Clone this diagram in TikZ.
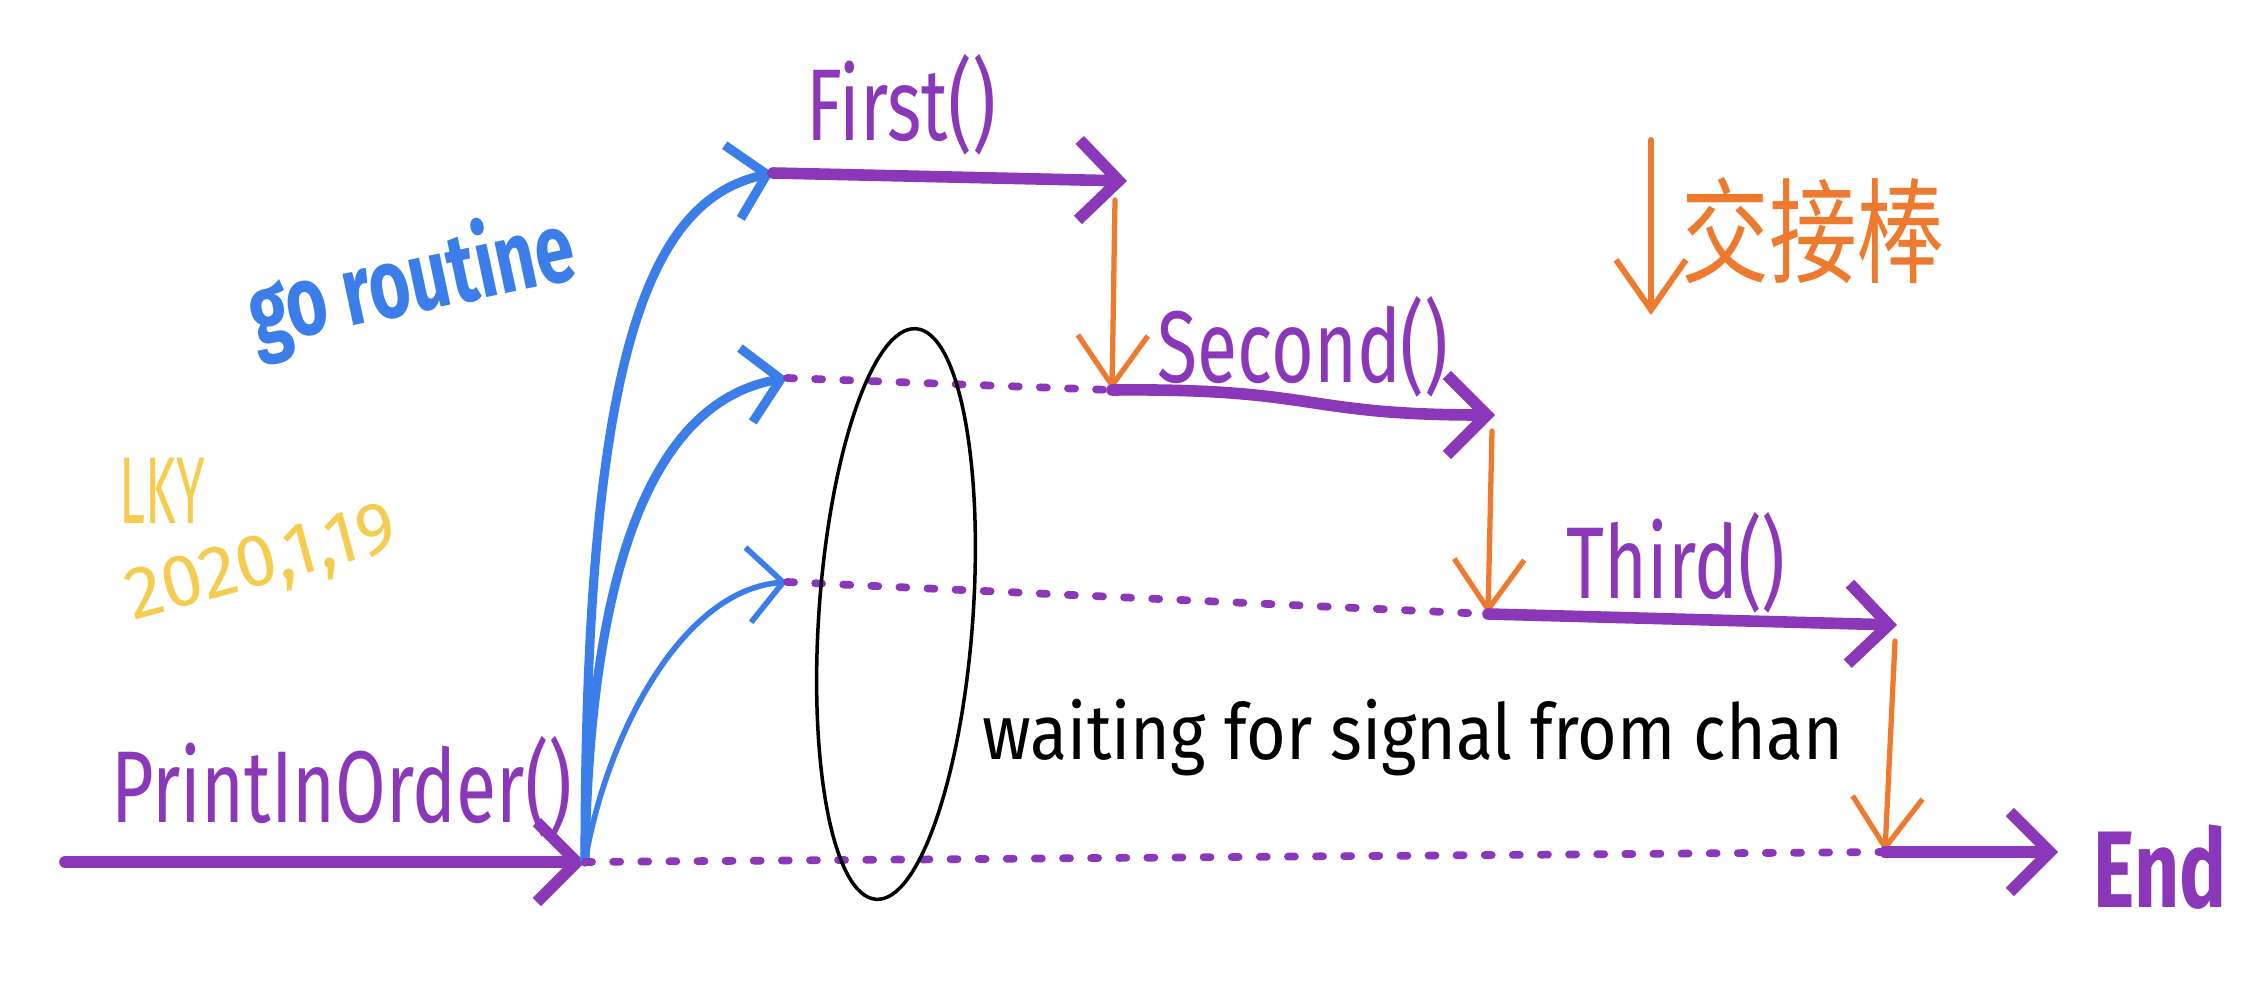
\documentclass[tikz,border=0pt]{standalone}
\usepackage{fontspec}
\setmainfont{Fira Sans}
\newfontfamily\cjkfont{Noto Sans CJK SC}
\usetikzlibrary{arrows.meta}
\definecolor{purp}{RGB}{138,56,185}
\definecolor{goblue}{RGB}{59,126,234}
\definecolor{baton}{RGB}{238,122,48}
\definecolor{sign}{RGB}{244,205,80}
\begin{document}
\begin{tikzpicture}
       \tikzstyle{flow}=[purp, line width=3.3pt, line cap=round, -{Straight Barb[length=4mm,width=8mm]}]
       \tikzstyle{wait}=[purp, line width=2.2pt, line cap=round, dash pattern=on 2pt off 6pt]
       \tikzstyle{spawn}=[goblue, line width=2.6pt, line cap=round, -{Straight Barb[length=3.5mm,width=7.5mm]}]
       \tikzstyle{pass}=[baton, line width=1.5pt, line cap=round, -{Straight Barb[length=5mm,width=7mm]}]
       \tikzstyle{fname}=[purp, inner sep=0, xscale=.72, font=\fontsize{29}{29}\selectfont]
       \fill[white] (0,0) rectangle (22.65,9.86);
       \useasboundingbox (0,0) rectangle (22.65,9.86);
       \coordinate (start) at (0.65,1.24);
       \coordinate (fork) at (5.85,1.24);
       \coordinate (f1) at (7.73,8.13);
       \coordinate (f2) at (11.27,8.05);
       \coordinate (w2) at (7.87,6.08);
       \coordinate (s1) at (11.12,5.96);
       \coordinate (s2) at (14.95,5.71);
       \coordinate (w3) at (7.87,4.04);
       \coordinate (t1) at (14.88,3.72);
       \coordinate (t2) at (18.97,3.61);
       \coordinate (e1) at (18.85,1.34);
       \coordinate (e2) at (20.58,1.34);
       \coordinate (h1) at (11.15,7.86);
       \coordinate (h2) at (14.92,5.55);
       \coordinate (h3) at (18.95,3.45);
       \coordinate (legtop) at (16.51,8.46);
       \coordinate (legbot) at (16.51,6.71);
       \draw[flow] (start) -- (fork);
       \draw[spawn] (fork) .. controls (5.85,6.36) and (6.50,7.86) .. (f1);
       \draw[spawn] (fork) .. controls (5.90,4.36) and (6.60,5.86) .. (w2);
       \draw[spawn, line width=1.6pt] (fork) .. controls (6.05,2.46) and (6.80,3.96) .. (w3);
       \draw[flow] (f1) -- (f2);
       \draw[pass] (h1) -- (s1);
       \draw[flow] (s1) .. controls (13.2,5.98) and (13.0,5.71) .. (s2);
       \draw[pass] (h2) -- (t1);
       \draw[flow] (t1) -- (t2);
       \draw[pass] (h3) -- (e1);
       \draw[flow] (e1) -- (e2);
       \draw[wait] (w2) -- (s1);
       \draw[wait] (w3) -- (t1);
       \draw[wait] (fork) -- (e1);
       \draw[black, line width=1pt] (8.96,3.72) ellipse[x radius=0.77, y radius=2.86, rotate=-4];
       \draw[pass, line width=1.7pt] (legtop) -- (legbot);
       \node[fname] (pio) at (3.42,1.99) {PrintInOrder()};
       \node[fname] (first) at (9.01,8.81) {First()};
       \node[fname] (second) at (13.03,6.39) {Second()};
       \node[fname] (third) at (16.76,4.23) {Third()};
       \node[fname, font=\fontsize{31}{31}\selectfont\bfseries] (endlbl) at (21.60,1.19) {End};
       \node[goblue, inner sep=0, rotate=12, xscale=.72, font=\fontsize{28}{28}\selectfont\bfseries] (gor) at (4.12,7.02) {go routine};
       \node[sign, inner sep=0, xscale=.55, font=\fontsize{27}{27}\selectfont] (who) at (1.62,4.95) {LKY};
       \node[sign, inner sep=0, rotate=15, xscale=1, font=\fontsize{21}{21}\selectfont] (date) at (2.62,4.20) {2020,1,19};
       \node[black, inner sep=0, xscale=.88, font=\fontsize{22}{22}\selectfont] (note) at (14.13,2.48) {waiting for signal from chan};
       \node[baton, inner sep=0, yscale=1.3, font=\cjkfont\fontsize{25}{25}\selectfont] (legend) at (18.13,7.55) {交接棒};
      \end{tikzpicture}
\end{document}
